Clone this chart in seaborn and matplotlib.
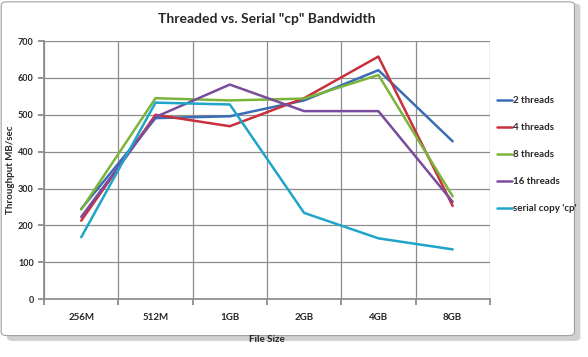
import pandas as pd
import numpy as np
import seaborn as sns
import matplotlib.pyplot as plt
from matplotlib.patches import FancyBboxPatch

sns.set_theme(style='white')
plt.rcParams['font.family'] = ['Lato', 'DejaVu Sans']

sizes = ['256M', '512M', '1GB', '2GB', '4GB', '8GB']
two_threads = [245, 491, 496, 539, 621, 428]
four_threads = [213, 500, 469, 545, 658, 253]
eight_threads = [243, 545, 539, 544, 608, 279]
sixteen_threads = [223, 494, 582, 510, 510, 264]
serial_cp = [168, 533, 528, 234, 165, 135]

series = {
    '2 threads': two_threads,
    '4 threads': four_threads,
    '8 threads': eight_threads,
    '16 threads': sixteen_threads,
    "serial copy 'cp'": serial_cp,
}
colors = ['#3a6db5', '#c8303c', '#7ab43a', '#7a4c9c', '#1ea5c8']

rows = []
for name, vals in series.items():
    for i, v in enumerate(vals):
        rows.append({'pos': i, 'size': sizes[i], 'throughput': v, 'series': name})
df = pd.DataFrame(rows)

fig = plt.figure(figsize=(5.88, 3.57), dpi=100)
# chart frame with shadow
fig.patches.append(FancyBboxPatch((0.012, 0.045), 0.975, 0.945, boxstyle='round,pad=0,rounding_size=0.01',
                                  transform=fig.transFigure, facecolor='#d0d0d0', edgecolor='none', zorder=-2))
fig.patches.append(FancyBboxPatch((0.002, 0.06), 0.975, 0.935, boxstyle='round,pad=0,rounding_size=0.01',
                                  transform=fig.transFigure, facecolor='white', edgecolor='#a0a0a0',
                                  linewidth=0.8, zorder=-1))

ax = fig.add_axes([0.075, 0.162, 0.758, 0.723])
sns.lineplot(data=df, x='pos', y='throughput', hue='series', palette=colors,
             linewidth=1.8, ax=ax, sort=False)

ax.set_xlim(-0.5, 5.5)
ax.set_ylim(0, 700)
ax.set_yticks(range(0, 701, 100))
ax.set_xticks(np.arange(-0.5, 5.6, 1))
ax.set_xticklabels([])
ax.set_xticks(range(6), minor=True)
ax.set_xticklabels(sizes, minor=True)
ax.tick_params(axis='x', which='minor', length=0, pad=10, labelsize=7)
ax.tick_params(axis='x', which='major', length=4, color='#888888', direction='out', bottom=True)
ax.tick_params(axis='y', length=4, color='#888888', direction='out', left=True, labelsize=6.5)
for lab in ax.get_xticklabels(minor=True) + ax.get_yticklabels():
    lab.set_fontweight('bold')

ax.grid(True, which='major', color='#8c8c8c', linewidth=0.9)
ax.set_axisbelow(True)
for s in ['top', 'right']:
    ax.spines[s].set_visible(False)
ax.spines['left'].set_color('#8c8c8c')
ax.spines['bottom'].set_color('#8c8c8c')

ax.set_xlabel('File Size', fontsize=7, fontweight='bold', labelpad=9)
ax.set_ylabel('Throughput MB/sec', fontsize=7, fontweight='bold', labelpad=2)
ax.set_title('Threaded vs. Serial "cp" Bandwidth', fontsize=10, fontweight='bold', pad=13)

leg = ax.legend(loc='upper left', bbox_to_anchor=(1.0, 0.813), frameon=False, fontsize=7,
                handlelength=1.6, handletextpad=0.1, labelspacing=1.85, borderaxespad=0.3)
for t in leg.get_texts():
    t.set_fontweight('bold')

fig.savefig('out.png', dpi=100)
